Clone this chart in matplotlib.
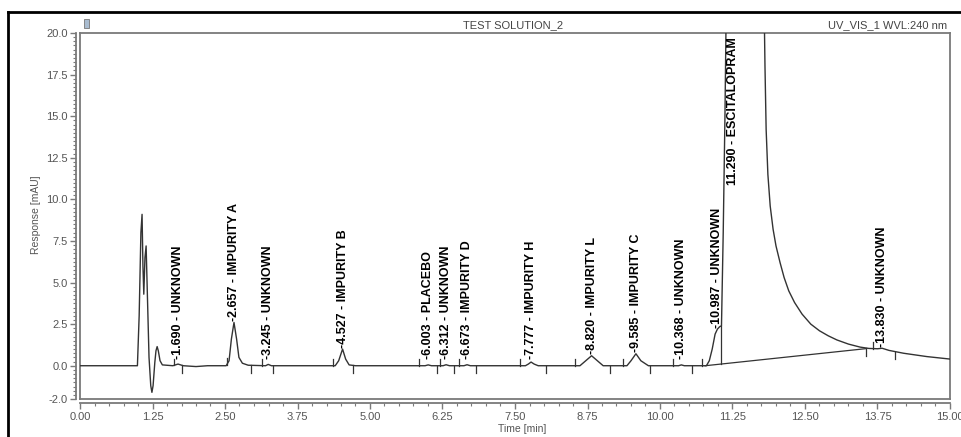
"""Chromatogram: TEST SOLUTION_2, UV_VIS_1 WVL:240 nm."""

import matplotlib

matplotlib.use("Agg")
import matplotlib.pyplot as plt
import numpy as np
from matplotlib.lines import Line2D
from matplotlib.patches import Rectangle
from matplotlib.ticker import FormatStrFormatter, MultipleLocator, FixedLocator

plt.rcParams["font.family"] = ["Liberation Sans", "DejaVu Sans"]

TRACE = "#333333"
AXIS = "#7a7a7a"
TXT = "#555555"

# trace (time [min], response [mAU]); main peak apex is off scale
TIME = [0.00, 0.99, 1.02, 1.05, 1.07, 1.085, 1.10, 1.12, 1.14, 1.16, 1.19, 1.22, 1.24,
        1.26, 1.29, 1.31, 1.33, 1.35, 1.38, 1.42, 1.60, 1.69, 1.78, 2.00, 2.20,
        2.52, 2.57, 2.61, 2.655, 2.70, 2.74, 2.80, 2.90, 3.20, 3.245, 3.30,
        4.40, 4.46, 4.527, 4.58, 4.64, 4.75, 5.95, 6.003, 6.06, 6.26, 6.312, 6.37,
        6.62, 6.673, 6.73, 7.68, 7.73, 7.777, 7.83, 7.90, 8.62, 8.72, 8.82, 8.92, 9.02,
        9.43, 9.50, 9.585, 9.67, 9.80, 10.32, 10.368, 10.42, 10.80, 10.85, 10.90, 10.95,
        10.99, 11.03, 11.06, 11.09, 11.12, 11.14, 11.29, 11.80, 11.81, 11.83, 11.86,
        11.90, 11.95, 12.00, 12.07, 12.14, 12.22, 12.32, 12.45, 12.60, 12.75, 12.90,
        13.05, 13.25, 13.45, 13.60, 13.75, 13.83, 13.95, 14.20, 14.60, 15.00]
RESPONSE = [0.0, 0.0, 3.0, 8.0, 9.1, 6.0, 4.3, 6.5, 7.2, 4.5, 0.5, -1.2, -1.6,
            -1.2, 0.2, 0.9, 1.15, 0.9, 0.3, 0.05, 0.0, 0.1, 0.0, -0.05, 0.0,
            0.0, 0.3, 1.6, 2.6, 1.6, 0.5, 0.15, 0.03, 0.0, 0.08, 0.0,
            0.0, 0.3, 1.0, 0.4, 0.05, 0.0, 0.0, 0.05, 0.0, 0.0, 0.06, 0.0,
            0.0, 0.06, 0.0, 0.0, 0.1, 0.22, 0.1, 0.0, 0.0, 0.3, 0.6, 0.3, 0.0,
            0.0, 0.3, 0.72, 0.3, 0.0, 0.0, 0.05, 0.0, 0.0, 0.3, 1.0, 1.9,
            2.2, 2.35, 2.4, 8.0, 15.0, 21.0, 40.0, 20.5, 18.0, 14.2, 11.5,
            9.6, 8.2, 7.2, 6.2, 5.3, 4.5, 3.8, 3.1, 2.5, 2.1, 1.8,
            1.55, 1.3, 1.12, 1.04, 1.02, 1.05, 0.92, 0.75, 0.55, 0.40]

# peak table
PEAK_RT = [1.690, 2.657, 3.245, 4.527, 6.003, 6.312, 6.673, 7.777, 8.820, 9.585,
           10.368, 10.987, 11.290, 13.830]
PEAK_NAME = ["UNKNOWN", "IMPURITY A", "UNKNOWN", "IMPURITY B", "PLACEBO", "UNKNOWN",
             "IMPURITY D", "IMPURITY H", "IMPURITY L", "IMPURITY C", "UNKNOWN",
             "UNKNOWN", "ESCITALOPRAM", "UNKNOWN"]
PEAK_HEIGHT = [0.1, 2.6, 0.08, 1.0, 0.05, 0.06, 0.06, 0.22, 0.6, 0.72, 0.05, 2.2, None, 1.05]

# integration delimiters
PEAK_START = [1.62, 2.53, 3.13, 4.37, 5.85, 6.20, 6.53, 7.59, 8.53, 9.36, 10.22, 10.73, 13.67]
PEAK_END = [1.76, 2.94, 3.32, 4.71, 6.15, 6.44, 6.83, 8.03, 9.13, 9.82, 10.56, 13.56, 14.06]
MAIN_BASE_T = [10.78, 13.56]
MAIN_BASE_V = [0.0, 1.03]
DROP_T = 11.06

fig = plt.figure(figsize=(9.62, 4.37), dpi=100)
ax = fig.add_axes([80 / 962, 38 / 437, 870 / 962, 366 / 437])
ax.set_xlim(0, 15)
ax.set_ylim(-2, 20)

# frame
for s in ["top", "right", "left", "bottom"]:
    ax.spines[s].set_color(AXIS)
    ax.spines[s].set_linewidth(1.3)
ax.spines["left"].set_position(("outward", 3))
ax.spines["bottom"].set_position(("outward", 3))
ax.plot([0, 0], [0, 1], transform=ax.transAxes, color=AXIS, lw=1.3, clip_on=False)
ax.plot([0, 1], [0, 0], transform=ax.transAxes, color=AXIS, lw=1.3, clip_on=False)

ax.yaxis.set_major_locator(FixedLocator([-2.0, 0.0, 2.5, 5.0, 7.5, 10.0, 12.5, 15.0, 17.5, 20.0]))
ax.yaxis.set_minor_locator(MultipleLocator(0.25))
ax.xaxis.set_major_locator(MultipleLocator(1.25))
ax.xaxis.set_minor_locator(MultipleLocator(0.25))
ax.yaxis.set_major_formatter(FormatStrFormatter("%.1f"))
ax.xaxis.set_major_formatter(FormatStrFormatter("%.2f"))
ax.tick_params(which="major", length=4, width=1.0, color=AXIS, labelsize=8, labelcolor=TXT, pad=2)
ax.tick_params(which="minor", length=2, width=0.8, color=AXIS)

# trace
ax.plot(TIME, RESPONSE, color=TRACE, lw=1.0, zorder=3)

# integration baseline + drop line under the main peak
ax.plot(MAIN_BASE_T, MAIN_BASE_V, color=TRACE, lw=0.9, zorder=3)
ax.plot([DROP_T, DROP_T], [np.interp(DROP_T, MAIN_BASE_T, MAIN_BASE_V), np.interp(DROP_T, TIME, RESPONSE)],
        color=TRACE, lw=0.9, zorder=3)

# start (up) / end (down) delimiter ticks
for t in PEAK_START:
    v = np.interp(t, TIME, RESPONSE)
    ax.plot([t, t], [v, v + 0.4], color=TRACE, lw=0.9)
for t in PEAK_END:
    v = np.interp(t, TIME, RESPONSE)
    ax.plot([t, t], [v, v - 0.45], color=TRACE, lw=0.9)

# peak labels
for rt, name, h in zip(PEAK_RT, PEAK_NAME, PEAK_HEIGHT):
    if h is None:
        ax.text(rt - 0.03, 19.75, f"{rt:.3f} - {name}", rotation=90, ha="center", va="top",
                fontsize=9, weight="bold", color="black")
    else:
        ax.annotate(f"-{rt:.3f} - {name}", (rt, max(h, 0.35)), xytext=(0, 1), textcoords="offset points",
                    rotation=90, ha="center", va="bottom", fontsize=9, weight="bold", color="black")

# header / axis labels
fig.text(513 / 962, 1 - 25 / 437, "TEST SOLUTION_2", ha="center", va="center", fontsize=8, color="#444")
fig.text(947 / 962, 1 - 25 / 437, "UV_VIS_1 WVL:240 nm", ha="right", va="center", fontsize=8, color="#444")
fig.text(522 / 962, 1 - 429 / 437, "Time [min]", ha="center", va="center", fontsize=7.5, color=TXT)
fig.text(36 / 962, 1 - 215 / 437, "Response [mAU]", ha="center", va="center", rotation=90,
         fontsize=7.5, color=TXT)

# small icon + outer black border
fig.add_artist(Rectangle((84 / 962, 1 - 28 / 437), 5 / 962, 9 / 437, transform=fig.transFigure,
                         facecolor="#a9bcd0", edgecolor="#777", lw=0.6))
fig.add_artist(Line2D([8 / 962, 1], [1 - 12 / 437] * 2, transform=fig.transFigure, color="black", lw=2))
fig.add_artist(Line2D([8 / 962] * 2, [0, 1 - 12 / 437], transform=fig.transFigure, color="black", lw=2))

fig.savefig("out.png", dpi=100)
plt.close()
